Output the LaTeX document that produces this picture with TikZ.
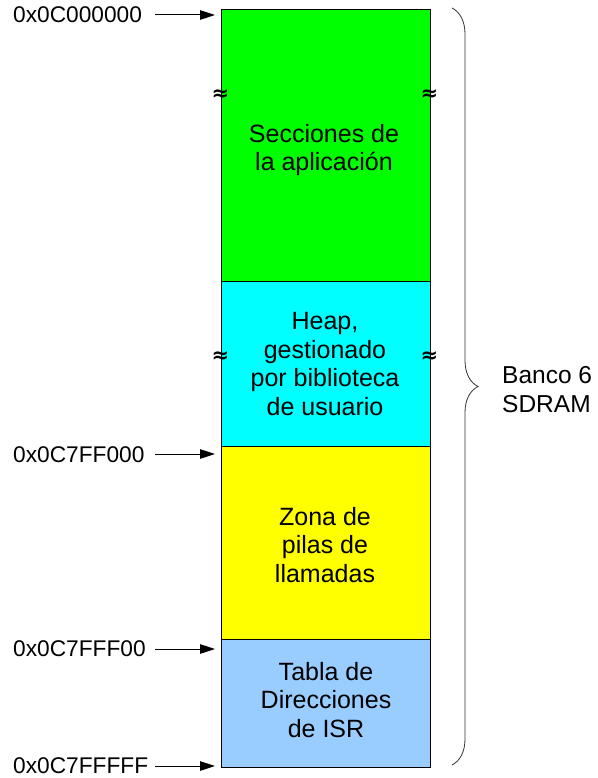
\documentclass[tikz,border=0pt]{standalone}
\usepackage{fontspec}
\setmainfont{Liberation Sans}
\newfontfamily\symfont{DejaVu Sans}
\usetikzlibrary{arrows.meta,decorations.pathreplacing}
\definecolor{cgreen}{RGB}{0,255,0}
\definecolor{ccyan}{RGB}{0,255,255}
\definecolor{cyellow}{RGB}{255,255,0}
\definecolor{cblue}{RGB}{153,204,255}
\begin{document}
\begin{tikzpicture}[x=1pt,y=-1pt,
  mem/.style={draw=black, line width=1pt, minimum width=209pt, inner sep=0pt, anchor=north west},
  memtxt/.style={align=center, inner sep=0pt, font=\fontsize{25}{28.5}\selectfont},
  addr/.style={anchor=west, inner sep=0pt, font=\fontsize{22.7}{26}\selectfont},
  arr/.style={line width=1pt, -{Triangle[length=15pt,width=9.5pt]}},
  brk/.style={inner sep=0pt, font=\symfont\bfseries\fontsize{21}{21}\selectfont},
  bracestyle/.style={draw=black!80, line width=0.8pt, decorate, decoration={brace, amplitude=26pt, aspect=0.5}}]
\useasboundingbox (0,0) rectangle (597,778);
% memory regions
\node[mem, fill=cgreen,  minimum height=272pt] (app)   at (221,9)   {};
\node[mem, fill=ccyan,   minimum height=165pt] (heap)  at (221,281) {};
\node[mem, fill=cyellow, minimum height=193pt] (stack) at (221,446) {};
\node[mem, fill=cblue,   minimum height=128pt] (isr)   at (221,639) {};
% texts
\node[memtxt] (tapp)   at (324,150) {Secciones de\\la aplicación};
\node[memtxt] (theap)  at (325,364) {Heap,\\gestionado\\por biblioteca\\de usuario};
\node[memtxt] (tstack) at (325,545) {Zona de\\pilas de\\llamadas};
\node[memtxt] (tisr)   at (326,700) {Tabla de\\Direcciones\\de ISR};
% break marks
\node[brk] (b1) at (220.5,95)  {≈};
\node[brk] (b2) at (429.5,95)  {≈};
\node[brk] (b3) at (220.5,357) {≈};
\node[brk] (b4) at (429.5,357) {≈};
% address labels
\node[addr] (a1) at (13,15)  {0x0C000000};
\node[addr] (a2) at (13,455) {0x0C7FF000};
\node[addr] (a3) at (13,649) {0x0C7FFF00};
\node[addr] (a4) at (13,766) {0x0C7FFFFF};
\coordinate (s1) at (155,15);  \coordinate (e1) at (215,15);
\coordinate (s2) at (155,454); \coordinate (e2) at (215,454);
\coordinate (s3) at (155,649); \coordinate (e3) at (215,649);
\coordinate (s4) at (155,766); \coordinate (e4) at (215,766);
\draw[arr] (s1) -- (e1);
\draw[arr] (s2) -- (e2);
\draw[arr] (s3) -- (e3);
\draw[arr] (s4) -- (e4);
% brace
\coordinate (bt) at (452,8);
\coordinate (bb) at (452,765);
\draw[bracestyle] (bt) -- (bb);
\node[anchor=west, align=left, inner sep=0pt, font=\fontsize{24.5}{29}\selectfont] (bank) at (502,390) {Banco 6\\SDRAM};
\end{tikzpicture}
\end{document}
